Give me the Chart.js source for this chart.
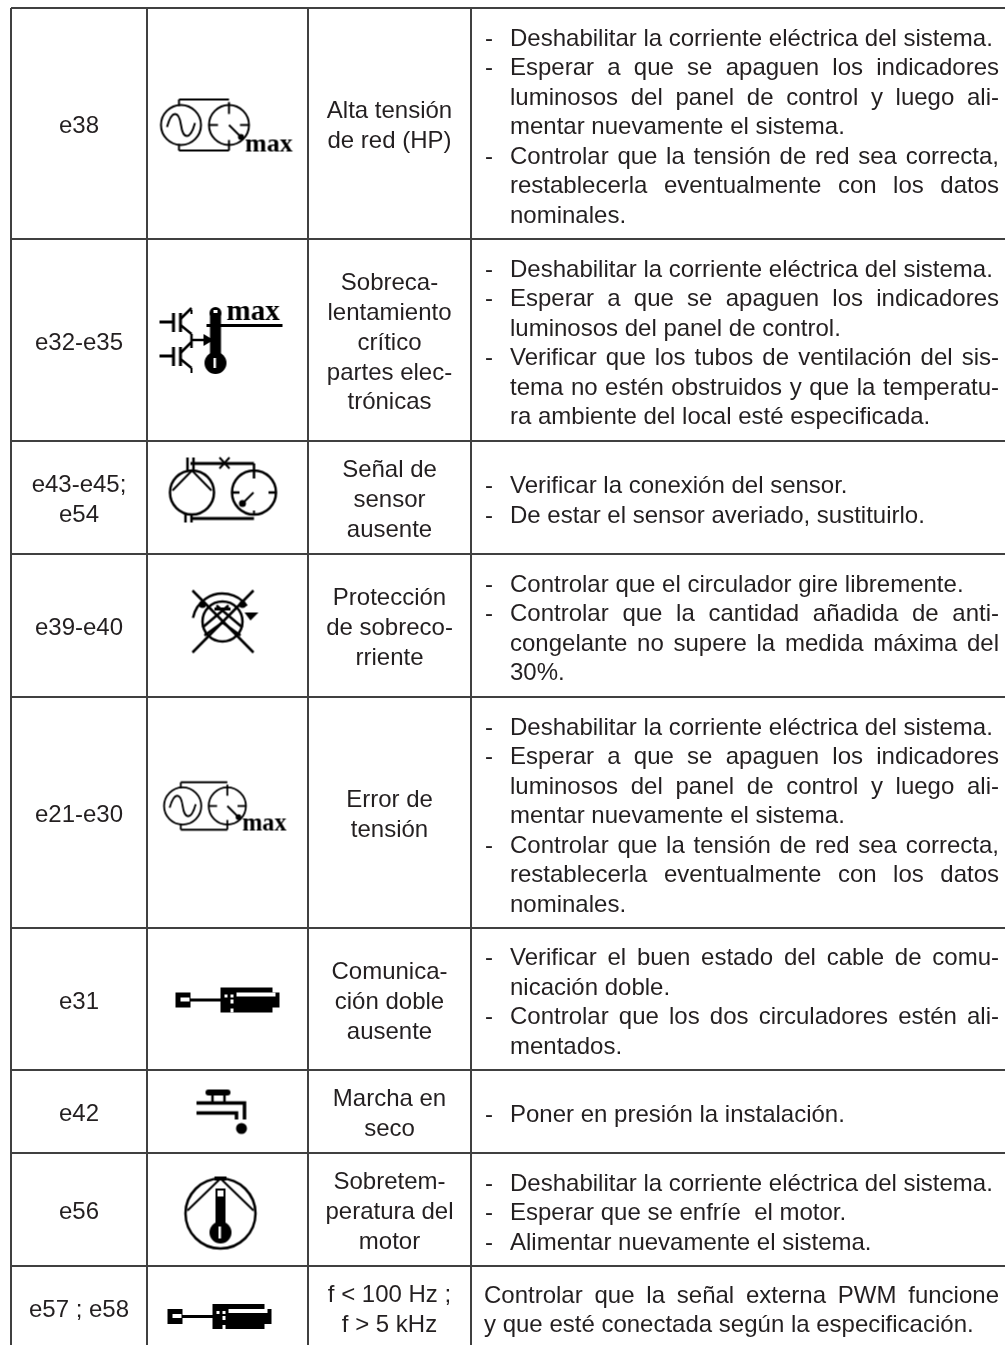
<!DOCTYPE html>
<html>
<head>
<meta charset="utf-8">
<title>Tabla de errores</title>
<script src="https://cdn.jsdelivr.net/npm/chart.js@4"></script>
<style>
  body { margin: 0; background: #fff; }
  canvas { display: block; }
</style>
</head>
<body>
<canvas id="plot" width="1005" height="1345"></canvas>
<script>
// table values
var columnEdges = [11, 147, 308, 471];
var rowEdges = [8, 239, 441, 554, 697, 928, 1070, 1153, 1266, 1348];

var codes = [["e38"], ["e32-e35"], ["e43-e45;", "e54"], ["e39-e40"], ["e21-e30"], ["e31"], ["e42"], ["e56"], ["e57 ; e58"]];

var faults = [
  ["Alta tensión", "de red (HP)"],
  ["Sobreca-", "lentamiento", "crítico", "partes elec-", "trónicas"],
  ["Señal de", "sensor", "ausente"],
  ["Protección", "de sobreco-", "rriente"],
  ["Error de", "tensión"],
  ["Comunica-", "ción doble", "ausente"],
  ["Marcha en", "seco"],
  ["Sobretem-", "peratura del", "motor"],
  ["f < 100 Hz ;", "f > 5 kHz"]
];

var remedies = [
  ["- Deshabilitar la corriente eléctrica del sistema.", "- Esperar a que se apaguen los indicadores", "luminosos del panel de control y luego ali-", "mentar nuevamente el sistema.", "- Controlar que la tensión de red sea correcta,", "restablecerla eventualmente con los datos", "nominales."],
  ["- Deshabilitar la corriente eléctrica del sistema.", "- Esperar a que se apaguen los indicadores", "luminosos del panel de control.", "- Verificar que los tubos de ventilación del sis-", "tema no estén obstruidos y que la temperatu-", "ra ambiente del local esté especificada."],
  ["- Verificar la conexión del sensor.", "- De estar el sensor averiado, sustituirlo."],
  ["- Controlar que el circulador gire libremente.", "- Controlar que la cantidad añadida de anti-", "congelante no supere la medida máxima del", "30%."],
  ["- Deshabilitar la corriente eléctrica del sistema.", "- Esperar a que se apaguen los indicadores", "luminosos del panel de control y luego ali-", "mentar nuevamente el sistema.", "- Controlar que la tensión de red sea correcta,", "restablecerla eventualmente con los datos", "nominales."],
  ["- Verificar el buen estado del cable de comu-", "nicación doble.", "- Controlar que los dos circuladores estén ali-", "mentados."],
  ["- Poner en presión la instalación."],
  ["- Deshabilitar la corriente eléctrica del sistema.", "- Esperar que se enfríe  el motor.", "- Alimentar nuevamente el sistema."],
  ["Controlar que la señal externa PWM funcione", "y que esté conectada según la especificación."]
];

var rowCentres = codes.map(function (c, i) { return (rowEdges[i] + rowEdges[i + 1]) / 2; });

function line(c, x1, y1, x2, y2, w) {
  c.lineWidth = w || 2;
  c.beginPath();
  c.moveTo(x1, y1);
  c.lineTo(x2, y2);
  c.stroke();
}
function ring(c, x, y, r, w) {
  c.lineWidth = w || 2;
  c.beginPath();
  c.arc(x, y, r, 0, Math.PI * 2);
  c.stroke();
}
function blob(c, x, y, r) {
  c.beginPath();
  c.arc(x, y, r, 0, Math.PI * 2);
  c.fill();
}
function dial(c, x, y, r) {
  ring(c, x, y, r);
  line(c, x, y - r - 3, x, y - r + 9);
  line(c, x - r, y, x - r + 9, y);
  line(c, x + r, y, x + r - 9, y);
  line(c, x, y + r, x, y + r - 5);
}

// sine wave + gauge + "max"
function voltageIcon(c, dx, dy, s) {
  c.translate(dx, dy);
  c.scale(s, s);
  ring(c, -24, 0, 20);
  dial(c, 24, 0, 20);
  c.lineWidth = 2;
  c.beginPath();
  c.moveTo(-38, 2);
  c.bezierCurveTo(-33, -16, -26, -14, -24, 0);
  c.bezierCurveTo(-22, 14, -15, 16, -10, -2);
  c.stroke();
  line(c, -26, -25.5, 24, -25.5, 2);
  line(c, -26, 25.5, 24, 25.5, 2);
  line(c, -26, -25.5, -26, -19);
  line(c, -26, 25.5, -26, 19);
  line(c, 24, 19, 24, 25.5);
  line(c, 24, 0, 38, 14);
  blob(c, 36, 12, 3);
  c.font = "bold 26px 'Liberation Serif'";
  c.textBaseline = "alphabetic";
  c.fillText("max", 40, 26);
}

function igbt(c, y) {
  line(c, -68, y, -55, y, 3);
  line(c, -54, y - 9, -54, y + 10, 3);
  line(c, -47, y - 9, -47, y + 10, 3);
  line(c, -47, y - 3, -36, y - 14, 2.5);
  line(c, -47, y + 3, -36, y + 12, 2.5);
}

function igbtIcon(c) {
  igbt(c, -18);
  igbt(c, 16);
  line(c, -36, -6, -36, 8, 2.5);
  line(c, -36, 0, -20, 0, 2.5);
  c.beginPath();
  c.moveTo(-14, 0);
  c.lineTo(-24, -6);
  c.lineTo(-24, 6);
  c.fill();
  line(c, -36, 28, -36, 33);
  line(c, -36, -30, -36, -26);
  // thermometer
  c.fillRect(-17.5, -27, 11, 50);
  blob(c, -12, -27, 6);
  blob(c, -12, 23, 11);
  c.fillStyle = "#fff";
  c.fillRect(-14, -30, 4, 3);
  c.fillRect(-14, 18, 2.5, 10);
  c.fillStyle = "#000";
  line(c, -21, -14.5, 55, -14.5, 3);
  c.font = "bold 29px 'Liberation Serif'";
  c.textBaseline = "alphabetic";
  c.fillText("max", -1, -20);
}

function sensorIcon(c) {
  c.translate(-4, -5);
  ring(c, -31.5, 0, 22, 2.5);
  ring(c, 30.5, 0, 22, 2.5);
  line(c, -33, -29, 30.5, -29, 3);
  line(c, -33, 26, 30.5, 26, 3);
  line(c, -36, -35, -36, -22, 2.5);
  line(c, -30, -35, -30, -22, 2.5);
  line(c, -38, 21, -38, 30, 2.5);
  line(c, -32, 21, -32, 30, 2.5);
  line(c, -4, -35, 6, -24);
  line(c, 6, -35, -4, -24);
  line(c, -51, -2, -31.5, -22);
  line(c, -31.5, -22, -12, -2);
  line(c, 30.5, -29, 30.5, -14, 2.5);
  line(c, 8, 0, 16, 0, 2.5);
  line(c, 53, 0, 45, 0, 2.5);
  line(c, 30, 0, 17, 13);
  blob(c, 19, 11, 3.5);
  line(c, 30.5, 22, 30.5, 18);
}

function currentIcon(c) {
  c.translate(-5, -4);
  line(c, -30, -31, 31, 31, 2.5);
  line(c, 31, -31, -30, 31, 2.5);
  c.lineWidth = 2.5;
  c.beginPath();
  c.arc(0, 2, 30, Math.PI * 1.06, Math.PI * 1.8);
  c.stroke();
  ring(c, 0, 0, 20, 2.5);
  line(c, -20, 6, 6, -16, 2.5);
  line(c, 20, 6, -6, -16, 2.5);
  line(c, -18, 14, 0, 1, 2.5);
  line(c, 18, 14, 0, 1, 2.5);
  blob(c, -20, -17, 3.5);
  blob(c, 20, -17, 3.5);
  c.fillRect(-8, -14, 16, 3);
  c.beginPath();
  c.moveTo(22, -9);
  c.lineTo(36, -9);
  c.lineTo(28, -1);
  c.fill();
}

function toolIcon(c, dx, dy) {
  c.translate(dx, dy);
  c.fillRect(-52, -7, 15, 15);
  c.fillRect(-37, -1, 30, 3);
  c.fillRect(-7, -12, 52, 25);
  c.fillRect(45, -7, 7, 15);
  c.fillStyle = "#fff";
  c.fillRect(-47, -2, 9, 4);
  c.fillRect(9, -7, 39, 4);
  c.fillRect(-3, -5, 3, 3);
  c.fillRect(3, -5, 3, 3);
  c.fillRect(3, 0, 3, 4);
  c.fillRect(3, 9, 3, 4);
  c.fillStyle = "#000";
}

function tapIcon(c) {
  c.lineWidth = 3;
  c.beginPath();
  c.roundRect(-22, -22, 25, 6, 3);
  c.fill();
  line(c, -15, -17, -15, -9, 2.5);
  line(c, -3, -17, -3, -9, 2.5);
  c.lineWidth = 3.5;
  c.beginPath();
  c.moveTo(-31, -8.5);
  c.lineTo(17, -8.5);
  c.lineTo(17, 8);
  c.stroke();
  c.beginPath();
  c.moveTo(-31, 1.5);
  c.lineTo(9, 1.5);
  c.lineTo(9, 8);
  c.stroke();
  blob(c, 14, 17, 5.5);
}

function motorIcon(c) {
  c.translate(-7, 4);
  ring(c, 0, 0, 35, 2.5);
  line(c, -33, -3, 0, -35);
  line(c, 33, -3, 0, -35);
  c.fillRect(-6, -37, 12, 4);
  c.fillRect(-5, -25, 10, 44);
  blob(c, 0, 19, 11);
  c.fillStyle = "#fff";
  c.fillRect(-3, -23, 6, 6);
  c.fillRect(-2, 13, 2.5, 12);
  c.fillStyle = "#000";
}

var iconPainters = [
  function (c) { voltageIcon(c, -22.5, 1.5, 1); },
  igbtIcon,
  sensorIcon,
  currentIcon,
  function (c) { voltageIcon(c, -22.5, -6.5, 0.93); },
  function (c) { toolIcon(c, 0, 0.5); },
  tapIcon,
  motorIcon,
  function (c) { toolIcon(c, -8, 9); }
];

// each icon is a small canvas used as the point style of its cell
var iconStyles = iconPainters.map(function (paint) {
  var cv = document.createElement("canvas");
  cv.width = 180;
  cv.height = 140;
  var c = cv.getContext("2d");
  c.translate(90, 70);
  c.strokeStyle = "#000";
  c.fillStyle = "#000";
  paint(c);
  return cv;
});

var TEXT_FONT = "24px 'Liberation Sans'";
var CELL_PITCH = 29.9;
var REMEDY_PITCH = 29.5;

function drawCentred(ctx, lines, x, y) {
  var top = y + 3 - (lines.length - 1) * CELL_PITCH / 2;
  lines.forEach(function (t, i) {
    ctx.fillText(t, x, top + i * CELL_PITCH);
  });
}

function drawRemedy(ctx, lines, x, y) {
  var right = x + 528;
  var top = y + 4 - (lines.length - 1) * REMEDY_PITCH / 2;
  var bulleted = lines[0].indexOf("- ") === 0;
  lines.forEach(function (raw, i) {
    var isItem = raw.indexOf("- ") === 0;
    var t = isItem ? raw.slice(2) : raw;
    var left = x + (bulleted ? 39 : 13);
    var yy = top + i * REMEDY_PITCH;
    if (isItem) ctx.fillText("-", x + 14, yy);
    var next = lines[i + 1];
    var justify = next !== undefined && next.indexOf("- ") !== 0;
    ctx.wordSpacing = "0px";
    var w = ctx.measureText(t).width;
    var room = right - left;
    if (justify && w < room) {
      ctx.wordSpacing = ((room - w) / (t.split(" ").length - 1)) + "px";
    }
    ctx.fillText(t, left, yy, room);
    ctx.wordSpacing = "0px";
  });
}

var tableText = {
  id: "tableText",
  afterDatasetsDraw: function (chart) {
    var ctx = chart.ctx;
    ctx.save();
    ctx.font = TEXT_FONT;
    ctx.fillStyle = "#231f20";
    ctx.textBaseline = "middle";
    ctx.textAlign = "center";
    chart.getDatasetMeta(0).data.forEach(function (p, i) { drawCentred(ctx, codes[i], p.x, p.y); });
    chart.getDatasetMeta(2).data.forEach(function (p, i) { drawCentred(ctx, faults[i], p.x, p.y); });
    ctx.textAlign = "left";
    chart.getDatasetMeta(3).data.forEach(function (p, i) { drawRemedy(ctx, remedies[i], p.x, p.y); });
    ctx.restore();
  }
};

function cellPoints(x) {
  return rowCentres.map(function (y) { return { x: x, y: y }; });
}

var gridStyle = { color: "#404040", lineWidth: 2, drawTicks: false };

new Chart(document.getElementById("plot"), {
  type: "scatter",
  data: {
    datasets: [
      { data: cellPoints((columnEdges[0] + columnEdges[1]) / 2), pointRadius: 0 },
      { data: cellPoints((columnEdges[1] + columnEdges[2]) / 2), pointStyle: iconStyles, pointRadius: 5 },
      { data: cellPoints((columnEdges[2] + columnEdges[3]) / 2), pointRadius: 0 },
      { data: cellPoints(columnEdges[3]), pointRadius: 0 }
    ]
  },
  options: {
    responsive: false,
    animation: false,
    events: [],
    layout: { autoPadding: false, padding: { left: 11, top: 8, right: 0, bottom: 0 } },
    plugins: { legend: { display: false }, tooltip: { enabled: false } },
    scales: {
      x: {
        type: "linear",
        min: 11,
        max: 1005,
        border: { display: false },
        grid: gridStyle,
        ticks: { display: false, autoSkip: false },
        afterBuildTicks: function (axis) {
          axis.ticks = columnEdges.map(function (v) { return { value: v }; });
        }
      },
      y: {
        type: "linear",
        reverse: true,
        min: 8,
        max: 1345,
        border: { display: false },
        grid: gridStyle,
        ticks: { display: false, autoSkip: false },
        afterBuildTicks: function (axis) {
          axis.ticks = rowEdges.map(function (v) { return { value: v }; });
        }
      }
    }
  },
  plugins: [tableText]
});
</script>
</body>
</html>
